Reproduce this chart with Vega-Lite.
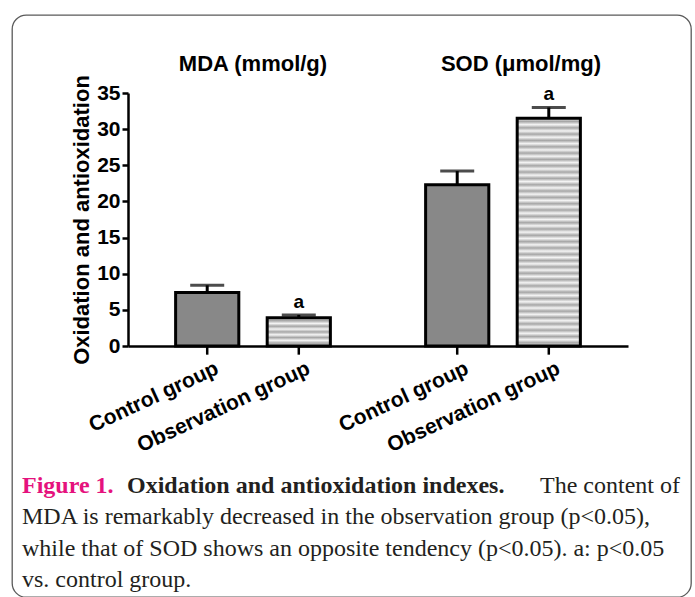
{
  "$schema": "https://vega.github.io/schema/vega-lite/v6.json",
  "width": 679,
  "height": 582,
  "autosize": {"type": "none"},
  "padding": {"left": 12, "top": 15, "right": 4, "bottom": 0},
  "background": "white",
  "config": {
    "view": {"stroke": "#5a5a5a", "strokeWidth": 1.3, "cornerRadius": 14},
    "font": "Liberation Sans"
  },
  "datasets": {
    "bars": [
      {"indicator": "MDA", "group": "Control group", "mean": 7.4, "upper": 8.4, "sig": ""},
      {"indicator": "MDA", "group": "Observation group", "mean": 3.9, "upper": 4.3, "sig": "a"},
      {"indicator": "SOD", "group": "Control group", "mean": 22.3, "upper": 24.2, "sig": ""},
      {"indicator": "SOD", "group": "Observation group", "mean": 31.5, "upper": 33.0, "sig": "a"}
    ],
    "caption": [
      {"line": 1, "seg": "fig", "text": "Figure 1."},
      {"line": 1, "seg": "head", "text": "Oxidation and antioxidation indexes."},
      {"line": 1, "seg": "tail", "text": "The content of"},
      {"line": 2, "seg": "body", "text": "MDA is remarkably decreased in the observation group (p<0.05),"},
      {"line": 3, "seg": "body", "text": "while that of SOD shows an opposite tendency (p<0.05). a: p<0.05"},
      {"line": 4, "seg": "body", "text": "vs. control group."}
    ]
  },
  "layer": [
    {
      "data": {"name": "bars"},
      "layer": [
        {
          "mark": {"type": "bar", "stroke": "black", "strokeWidth": 3},
          "encoding": {
            "x": {"field": "indicator", "type": "nominal",
              "scale": {"domain": ["MDA", "SOD"], "range": [116, 616], "paddingInner": 0, "paddingOuter": 0},
              "axis": {"orient": "bottom", "offset": -251, "labels": false, "ticks": false, "domain": true, "domainColor": "black", "domainWidth": 2.5, "title": null, "grid": false}},
            "xOffset": {"field": "group", "type": "nominal",
              "scale": {"domain": ["Control group", "Observation group"], "paddingInner": 0.31, "paddingOuter": 0.52}},
            "y": {"field": "mean", "type": "quantitative",
              "scale": {"domain": [0, 35], "range": [331, 78], "nice": false, "zero": false},
              "axis": {"orient": "left", "offset": -116, "values": [0, 5, 10, 15, 20, 25, 30, 35], "grid": false,
                "domainColor": "black", "domainWidth": 2.5, "tickColor": "black", "tickWidth": 2.5, "tickSize": 6,
                "labelFont": "Liberation Sans", "labelFontSize": 21, "labelFontWeight": "bold", "labelColor": "black", "labelPadding": 2,
                "title": "Oxidation and antioxidation", "titleFont": "Liberation Sans", "titleFontSize": 22, "titleFontWeight": "bold", "titleColor": "black", "titlePadding": 3}},
            "fill": {
              "condition": [
                {"test": "datum.group === 'Control group'", "value": "#888888"},
                {"test": "datum.indicator === 'SOD'", "value": {"gradient": "linear", "x1": 0, "y1": 0, "x2": 0, "y2": 1, "stops": [
                  {"offset": 0, "color": "#f4f4f4"}, {"offset": 0.0139, "color": "#a6a6a6"}, {"offset": 0.0278, "color": "#f4f4f4"}, {"offset": 0.0417, "color": "#a6a6a6"},
                  {"offset": 0.0556, "color": "#f4f4f4"}, {"offset": 0.0694, "color": "#a6a6a6"}, {"offset": 0.0833, "color": "#f4f4f4"}, {"offset": 0.0972, "color": "#a6a6a6"},
                  {"offset": 0.1111, "color": "#f4f4f4"}, {"offset": 0.125, "color": "#a6a6a6"}, {"offset": 0.1389, "color": "#f4f4f4"}, {"offset": 0.1528, "color": "#a6a6a6"},
                  {"offset": 0.1667, "color": "#f4f4f4"}, {"offset": 0.1806, "color": "#a6a6a6"}, {"offset": 0.1944, "color": "#f4f4f4"}, {"offset": 0.2083, "color": "#a6a6a6"},
                  {"offset": 0.2222, "color": "#f4f4f4"}, {"offset": 0.2361, "color": "#a6a6a6"}, {"offset": 0.25, "color": "#f4f4f4"}, {"offset": 0.2639, "color": "#a6a6a6"},
                  {"offset": 0.2778, "color": "#f4f4f4"}, {"offset": 0.2917, "color": "#a6a6a6"}, {"offset": 0.3056, "color": "#f4f4f4"}, {"offset": 0.3194, "color": "#a6a6a6"},
                  {"offset": 0.3333, "color": "#f4f4f4"}, {"offset": 0.3472, "color": "#a6a6a6"}, {"offset": 0.3611, "color": "#f4f4f4"}, {"offset": 0.375, "color": "#a6a6a6"},
                  {"offset": 0.3889, "color": "#f4f4f4"}, {"offset": 0.4028, "color": "#a6a6a6"}, {"offset": 0.4167, "color": "#f4f4f4"}, {"offset": 0.4306, "color": "#a6a6a6"},
                  {"offset": 0.4444, "color": "#f4f4f4"}, {"offset": 0.4583, "color": "#a6a6a6"}, {"offset": 0.4722, "color": "#f4f4f4"}, {"offset": 0.4861, "color": "#a6a6a6"},
                  {"offset": 0.5, "color": "#f4f4f4"}, {"offset": 0.5139, "color": "#a6a6a6"}, {"offset": 0.5278, "color": "#f4f4f4"}, {"offset": 0.5417, "color": "#a6a6a6"},
                  {"offset": 0.5556, "color": "#f4f4f4"}, {"offset": 0.5694, "color": "#a6a6a6"}, {"offset": 0.5833, "color": "#f4f4f4"}, {"offset": 0.5972, "color": "#a6a6a6"},
                  {"offset": 0.6111, "color": "#f4f4f4"}, {"offset": 0.625, "color": "#a6a6a6"}, {"offset": 0.6389, "color": "#f4f4f4"}, {"offset": 0.6528, "color": "#a6a6a6"},
                  {"offset": 0.6667, "color": "#f4f4f4"}, {"offset": 0.6806, "color": "#a6a6a6"}, {"offset": 0.6944, "color": "#f4f4f4"}, {"offset": 0.7083, "color": "#a6a6a6"},
                  {"offset": 0.7222, "color": "#f4f4f4"}, {"offset": 0.7361, "color": "#a6a6a6"}, {"offset": 0.75, "color": "#f4f4f4"}, {"offset": 0.7639, "color": "#a6a6a6"},
                  {"offset": 0.7778, "color": "#f4f4f4"}, {"offset": 0.7917, "color": "#a6a6a6"}, {"offset": 0.8056, "color": "#f4f4f4"}, {"offset": 0.8194, "color": "#a6a6a6"},
                  {"offset": 0.8333, "color": "#f4f4f4"}, {"offset": 0.8472, "color": "#a6a6a6"}, {"offset": 0.8611, "color": "#f4f4f4"}, {"offset": 0.875, "color": "#a6a6a6"},
                  {"offset": 0.8889, "color": "#f4f4f4"}, {"offset": 0.9028, "color": "#a6a6a6"}, {"offset": 0.9167, "color": "#f4f4f4"}, {"offset": 0.9306, "color": "#a6a6a6"},
                  {"offset": 0.9444, "color": "#f4f4f4"}, {"offset": 0.9583, "color": "#a6a6a6"}, {"offset": 0.9722, "color": "#f4f4f4"}, {"offset": 0.9861, "color": "#a6a6a6"},
                  {"offset": 1, "color": "#f4f4f4"}
                ]}}
              ],
              "value": {"gradient": "linear", "x1": 0, "y1": 0, "x2": 0, "y2": 1, "stops": [
                {"offset": 0, "color": "#f4f4f4"}, {"offset": 0.1, "color": "#a6a6a6"}, {"offset": 0.2, "color": "#f4f4f4"}, {"offset": 0.3, "color": "#a6a6a6"},
                {"offset": 0.4, "color": "#f4f4f4"}, {"offset": 0.5, "color": "#a6a6a6"}, {"offset": 0.6, "color": "#f4f4f4"}, {"offset": 0.7, "color": "#a6a6a6"},
                {"offset": 0.8, "color": "#f4f4f4"}, {"offset": 0.9, "color": "#a6a6a6"}, {"offset": 1, "color": "#f4f4f4"}
              ]}
            }
          }
        },
        {
          "mark": {"type": "rule", "strokeWidth": 3, "color": "black"},
          "encoding": {
            "x": {"field": "indicator", "type": "nominal", "scale": {"domain": ["MDA", "SOD"], "range": [116, 616], "paddingInner": 0, "paddingOuter": 0}, "axis": null},
            "xOffset": {"field": "group", "type": "nominal", "scale": {"domain": ["Control group", "Observation group"], "paddingInner": 0.31, "paddingOuter": 0.52}},
            "y": {"field": "mean", "type": "quantitative", "scale": {"domain": [0, 35], "range": [331, 78], "nice": false, "zero": false}},
            "y2": {"field": "upper"}
          }
        },
        {
          "mark": {"type": "tick", "orient": "horizontal", "size": 34, "thickness": 3, "color": "black"},
          "encoding": {
            "x": {"field": "indicator", "type": "nominal", "scale": {"domain": ["MDA", "SOD"], "range": [116, 616], "paddingInner": 0, "paddingOuter": 0}, "axis": null},
            "xOffset": {"field": "group", "type": "nominal", "scale": {"domain": ["Control group", "Observation group"], "paddingInner": 0.31, "paddingOuter": 0.52}},
            "y": {"field": "upper", "type": "quantitative", "scale": {"domain": [0, 35], "range": [331, 78], "nice": false, "zero": false}}
          }
        },
        {
          "mark": {"type": "text", "fontSize": 19, "fontWeight": "bold", "baseline": "alphabetic", "dy": -7, "color": "black", "font": "Liberation Sans"},
          "encoding": {
            "x": {"field": "indicator", "type": "nominal", "scale": {"domain": ["MDA", "SOD"], "range": [116, 616], "paddingInner": 0, "paddingOuter": 0},
              "axis": {"orient": "top", "offset": -55, "domain": false, "ticks": false, "tickSize": 0, "labelPadding": 0, "labelBaseline": "alphabetic", "labelAngle": 0,
                "labelFont": "Liberation Sans", "labelFontSize": 22, "labelFontWeight": "bold", "labelColor": "black",
                "labelExpr": "datum.value == 'MDA' ? 'MDA (mmol/g)' : 'SOD (μmol/mg)'",
                "labelOffset": {"condition": {"test": "datum.value == 'SOD'", "value": 18}, "value": 0},
                "title": null, "grid": false}},
            "xOffset": {"field": "group", "type": "nominal", "scale": {"domain": ["Control group", "Observation group"], "paddingInner": 0.31, "paddingOuter": 0.52}},
            "y": {"field": "upper", "type": "quantitative", "scale": {"domain": [0, 35], "range": [331, 78], "nice": false, "zero": false}},
            "text": {"field": "sig"}
          }
        },
        {
          "mark": {"type": "rule", "strokeWidth": 2.5, "color": "black"},
          "encoding": {
            "x": {"field": "indicator", "type": "nominal", "scale": {"domain": ["MDA", "SOD"], "range": [116, 616], "paddingInner": 0, "paddingOuter": 0}, "axis": null},
            "xOffset": {"field": "group", "type": "nominal", "scale": {"domain": ["Control group", "Observation group"], "paddingInner": 0.31, "paddingOuter": 0.52}},
            "y": {"datum": 0, "type": "quantitative", "scale": {"domain": [0, 35], "range": [331, 78], "nice": false, "zero": false}},
            "y2": {"datum": -1.2}
          }
        },
        {
          "mark": {"type": "text", "angle": 335, "align": "right", "baseline": "top", "dx": 0, "dy": 13, "fontSize": 21, "fontWeight": "bold", "color": "black", "font": "Liberation Sans"},
          "encoding": {
            "x": {"field": "indicator", "type": "nominal", "scale": {"domain": ["MDA", "SOD"], "range": [116, 616], "paddingInner": 0, "paddingOuter": 0}, "axis": null},
            "xOffset": {"field": "group", "type": "nominal", "scale": {"domain": ["Control group", "Observation group"], "paddingInner": 0.31, "paddingOuter": 0.52}},
            "y": {"datum": 0, "type": "quantitative", "scale": {"domain": [0, 35], "range": [331, 78], "nice": false, "zero": false}},
            "text": {"field": "group"}
          }
        }
      ],
      "resolve": {"axis": {"x": "independent"}}
    },
    {
      "data": {"name": "caption"},
      "layer": [
        {
          "transform": [{"filter": "datum.seg === 'fig'"}],
          "mark": {"type": "text", "align": "left", "baseline": "alphabetic", "font": "Liberation Serif", "fontSize": 24, "fontWeight": "bold", "color": "#e5127d"},
          "encoding": {
            "x": {"datum": 0, "type": "quantitative", "scale": {"domain": [0, 1], "range": [10, 668]}, "axis": null},
            "y": {"field": "line", "type": "ordinal", "scale": {"type": "point", "domain": [1, 2, 3, 4], "range": [478, 572], "padding": 0}, "axis": null},
            "text": {"field": "text"}
          }
        },
        {
          "transform": [{"filter": "datum.seg === 'head'"}],
          "mark": {"type": "text", "align": "left", "baseline": "alphabetic", "dx": 105, "font": "Liberation Serif", "fontSize": 24, "fontWeight": "bold", "color": "#231f20"},
          "encoding": {
            "x": {"datum": 0, "type": "quantitative", "scale": {"domain": [0, 1], "range": [10, 668]}, "axis": null},
            "y": {"field": "line", "type": "ordinal", "scale": {"type": "point", "domain": [1, 2, 3, 4], "range": [478, 572], "padding": 0}, "axis": null},
            "text": {"field": "text"}
          }
        },
        {
          "transform": [{"filter": "datum.seg === 'tail'"}],
          "mark": {"type": "text", "align": "right", "baseline": "alphabetic", "font": "Liberation Serif", "fontSize": 24, "color": "#231f20"},
          "encoding": {
            "x": {"datum": 1, "type": "quantitative", "scale": {"domain": [0, 1], "range": [10, 668]}, "axis": null},
            "y": {"field": "line", "type": "ordinal", "scale": {"type": "point", "domain": [1, 2, 3, 4], "range": [478, 572], "padding": 0}, "axis": null},
            "text": {"field": "text"}
          }
        },
        {
          "transform": [{"filter": "datum.seg === 'body'"}],
          "mark": {"type": "text", "align": "left", "baseline": "alphabetic", "font": "Liberation Serif", "fontSize": 24, "color": "#231f20"},
          "encoding": {
            "x": {"datum": 0, "type": "quantitative", "scale": {"domain": [0, 1], "range": [10, 668]}, "axis": null},
            "y": {"field": "line", "type": "ordinal", "scale": {"type": "point", "domain": [1, 2, 3, 4], "range": [478, 572], "padding": 0}, "axis": null},
            "text": {"field": "text"}
          }
        }
      ]
    }
  ],
  "resolve": {"scale": {"x": "independent", "y": "independent"}, "axis": {"x": "independent", "y": "independent"}}
}
